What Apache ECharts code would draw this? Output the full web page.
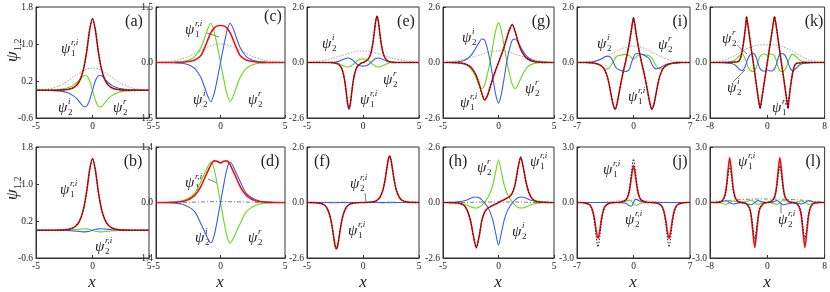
<!DOCTYPE html>
<html><head><meta charset="utf-8">
<script src="https://cdn.jsdelivr.net/npm/echarts@6/dist/echarts.min.js"></script>
<style>html,body{margin:0;padding:0;background:#fff}#c{width:830px;height:292px}</style>
</head><body><div id="c"></div>
<script>
// ---------- tick labels ----------
const ticksX5 = [-5, 0, 5];
const ticksX7 = [-7, 0, 7];
const ticksX8 = [-8, 0, 8];
const ticksYab = [-0.6, 0.2, 1.0, 1.8];
const ticksYc = [-1.5, 0, 1.5];
const ticksYd = [-1.4, 0, 1.4];
const ticksY26 = [-2.6, 0, 2.6];
const ticksY3 = [-3, 0, 3];

// ---------- panel (a),(b),(c),(d) x samples ----------
const xA = [-5,-4,-3.5,-3,-2.5,-2.25,-2,-1.75,-1.5,-1.25,-1,-0.75,-0.5,-0.25,0,0.25,0.5,0.75,1,1.25,1.5,1.75,2,2.25,2.5,3,3.5,4,5];

// (a)
const redA = [0,0,0.001,0.002,0.008,0.015,0.027,0.048,0.087,0.157,0.285,0.505,0.86,1.31,1.55,1.31,0.86,0.505,0.285,0.157,0.087,0.048,0.027,0.015,0.008,0.002,0.001,0,0];
const greenA = [0.001,0.004,0.008,0.017,0.035,0.05,0.07,0.1,0.145,0.2,0.27,0.32,0.31,0.2,0,-0.21,-0.34,-0.36,-0.3,-0.22,-0.155,-0.11,-0.075,-0.05,-0.035,-0.017,-0.008,-0.004,-0.001];
const blueA = [-0.001,-0.004,-0.008,-0.017,-0.035,-0.05,-0.075,-0.11,-0.155,-0.22,-0.3,-0.36,-0.34,-0.21,0,0.2,0.31,0.32,0.27,0.2,0.145,0.1,0.07,0.05,0.035,0.017,0.008,0.004,0.001];
const grayA = [0.005,0.025,0.05,0.09,0.15,0.19,0.23,0.28,0.32,0.36,0.4,0.43,0.46,0.475,0.48,0.475,0.46,0.43,0.4,0.36,0.32,0.28,0.23,0.19,0.15,0.09,0.05,0.025,0.005];

// (b)
const redB = [0,0,0.001,0.002,0.008,0.015,0.027,0.048,0.087,0.157,0.285,0.505,0.86,1.31,1.55,1.31,0.86,0.505,0.285,0.157,0.087,0.048,0.027,0.015,0.008,0.002,0.001,0,0];
const greenB = [0,0,0,0.001,0.003,0.005,0.008,0.012,0.017,0.022,0.028,0.032,0.03,0.02,0,-0.02,-0.03,-0.035,-0.03,-0.024,-0.018,-0.013,-0.009,-0.006,-0.003,-0.001,0,0,0];
const blueB = [0,0,0,-0.001,-0.003,-0.006,-0.009,-0.013,-0.018,-0.024,-0.03,-0.035,-0.03,-0.02,0,0.02,0.03,0.032,0.028,0.022,0.017,0.012,0.008,0.005,0.003,0.001,0,0,0];

// (c)
const redC = [0,0.001,0.003,0.008,0.025,0.04,0.07,0.12,0.2,0.38,0.6,0.8,0.93,0.99,1.0,0.99,0.93,0.8,0.6,0.38,0.2,0.12,0.07,0.04,0.025,0.008,0.003,0.001,0];
const greenC = [0,0.002,0.008,0.02,0.06,0.1,0.16,0.27,0.42,0.65,0.9,1.06,0.85,0.45,0,-0.45,-0.85,-1.06,-0.9,-0.65,-0.42,-0.27,-0.16,-0.1,-0.06,-0.02,-0.008,-0.002,0];
const blueC = [0,-0.002,-0.008,-0.02,-0.06,-0.1,-0.16,-0.27,-0.42,-0.65,-0.9,-1.06,-0.85,-0.45,0,0.45,0.85,1.06,0.9,0.65,0.42,0.27,0.16,0.1,0.06,0.02,0.008,0.002,0];
const grayC = [0.005,0.03,0.055,0.1,0.16,0.2,0.24,0.29,0.33,0.38,0.42,0.45,0.48,0.5,0.5,0.5,0.48,0.45,0.42,0.38,0.33,0.29,0.24,0.2,0.16,0.1,0.055,0.03,0.005];

// (d)
const redD = [0,0.002,0.008,0.025,0.07,0.12,0.18,0.28,0.42,0.6,0.78,0.95,1.05,1.04,1.0,1.04,1.05,0.95,0.78,0.6,0.42,0.28,0.18,0.12,0.07,0.025,0.008,0.002,0];
const greenD = [0,0.005,0.015,0.04,0.11,0.16,0.23,0.37,0.55,0.72,0.9,1.02,0.85,0.45,0,-0.45,-0.85,-1.02,-0.9,-0.72,-0.55,-0.37,-0.23,-0.16,-0.11,-0.04,-0.015,-0.005,0];
const blueD = [0,-0.005,-0.015,-0.04,-0.11,-0.16,-0.23,-0.37,-0.55,-0.72,-0.9,-1.02,-0.85,-0.45,0,0.45,0.85,1.02,0.9,0.72,0.55,0.37,0.23,0.16,0.11,0.04,0.015,0.005,0];
const grayD = [0,0,0,0.002,0.005,0.008,0.01,0.012,0.014,0.016,0.018,0.019,0.02,0.02,0.02,0.02,0.02,0.019,0.018,0.016,0.014,0.012,0.01,0.008,0.005,0.002,0,0,0];

// (e)
const xE = [-5,-4,-3.5,-3,-2.75,-2.5,-2.25,-2,-1.875,-1.75,-1.625,-1.5,-1.375,-1.25,-1.125,-1,-0.875,-0.75,-0.625,-0.5,-0.25,0,0.25,0.5,0.625,0.75,0.875,1,1.125,1.25,1.375,1.5,1.625,1.75,1.875,2,2.25,2.5,2.75,3,3.5,4,5];
const redE = [0,0,0,-0.003,-0.008,-0.024,-0.067,-0.19,-0.32,-0.54,-0.88,-1.37,-1.91,-2.18,-1.91,-1.37,-0.88,-0.54,-0.32,-0.19,-0.06,0,0.06,0.19,0.32,0.54,0.88,1.37,1.91,2.18,1.91,1.37,0.88,0.54,0.32,0.19,0.067,0.024,0.008,0.003,0,0,0];
const greenE = [0,0,0,0,-0.005,-0.015,-0.04,-0.09,-0.12,-0.15,-0.18,-0.2,-0.21,-0.2,-0.18,-0.14,-0.09,-0.03,0.03,0.09,0.15,0.17,0.15,0.09,0.03,-0.03,-0.09,-0.14,-0.18,-0.2,-0.21,-0.2,-0.18,-0.15,-0.12,-0.09,-0.04,-0.015,-0.005,0,0,0,0];
const blueE = [0,0,0,0,0.005,0.015,0.04,0.09,0.12,0.15,0.18,0.2,0.21,0.2,0.18,0.14,0.09,0.03,-0.03,-0.09,-0.15,-0.17,-0.15,-0.09,-0.03,0.03,0.09,0.14,0.18,0.2,0.21,0.2,0.18,0.15,0.12,0.09,0.04,0.015,0.005,0,0,0,0];
const grayE = [0.01,0.06,0.1,0.16,0.19,0.23,0.27,0.31,0.33,0.35,0.37,0.39,0.41,0.43,0.45,0.47,0.49,0.5,0.52,0.53,0.54,0.55,0.54,0.53,0.52,0.5,0.49,0.47,0.45,0.43,0.41,0.39,0.37,0.35,0.33,0.31,0.27,0.23,0.19,0.16,0.1,0.06,0.01];

// (f)
const xF = [-5,-4.5,-4,-3.5,-3.25,-3,-2.875,-2.75,-2.625,-2.5,-2.375,-2.25,-2.125,-2,-1.875,-1.75,-1.5,-1.25,-1,-0.5,0,0.5,1,1.25,1.5,1.75,1.875,2,2.125,2.25,2.375,2.5,2.625,2.75,2.875,3,3.25,3.5,4,4.5,5];
const redF = [-0.001,-0.004,-0.018,-0.1,-0.235,-0.54,-0.8,-1.15,-1.59,-2.0,-2.18,-2.0,-1.59,-1.15,-0.8,-0.54,-0.235,-0.1,-0.045,-0.009,0,0.009,0.045,0.1,0.235,0.54,0.8,1.15,1.59,2.0,2.18,2.0,1.59,1.15,0.8,0.54,0.235,0.1,0.018,0.004,0.001];
const greenF = [0,0,0,0,0,0.005,0.008,0.01,0.012,0.012,0.01,0.006,0.002,-0.002,-0.004,-0.004,-0.003,-0.002,-0.001,0,0,0,0.001,0.002,0.003,0.004,0.004,0.002,-0.002,-0.006,-0.01,-0.012,-0.012,-0.01,-0.008,-0.005,0,0,0,0,0];
const blueF = [0,0,0,0,0,-0.005,-0.008,-0.01,-0.012,-0.012,-0.01,-0.006,-0.002,0.002,0.004,0.004,0.003,0.002,0.001,0,0,0,-0.001,-0.002,-0.003,-0.004,-0.004,-0.002,0.002,0.006,0.01,0.012,0.012,0.01,0.008,0.005,0,0,0,0,0];

// (g)
const xG = [-5,-4.5,-4,-3.75,-3.5,-3.25,-3,-2.75,-2.5,-2.25,-2,-1.75,-1.5,-1.25,-1,-0.75,-0.5,-0.25,0,0.25,0.5,0.75,1,1.25,1.5,1.75,2,2.25,2.5,2.75,3,3.25,3.5,3.75,4,4.5,5];
const redG = [0,0,-0.005,-0.01,-0.02,-0.04,-0.07,-0.13,-0.22,-0.38,-0.62,-1.0,-1.45,-1.76,-1.55,-1.15,-0.72,-0.35,0,0.35,0.72,1.15,1.55,1.78,1.45,1.0,0.62,0.38,0.22,0.13,0.07,0.04,0.02,0.01,0.005,0,0];
const greenG = [0,0,-0.005,-0.01,-0.02,-0.04,-0.08,-0.15,-0.28,-0.48,-0.75,-1.05,-1.22,-1.05,-0.55,0.05,0.8,1.5,1.87,1.5,0.8,0.05,-0.55,-1.05,-1.22,-1.05,-0.75,-0.48,-0.28,-0.15,-0.08,-0.04,-0.02,-0.01,-0.005,0,0];
const blueG = [0,0.002,0.01,0.02,0.04,0.07,0.12,0.2,0.32,0.5,0.72,0.95,1.1,1.05,0.65,0.05,-0.75,-1.5,-1.9,-1.5,-0.75,0.05,0.65,1.05,1.1,0.95,0.72,0.5,0.32,0.2,0.12,0.07,0.04,0.02,0.01,0.002,0];
const grayG = [0.01,0.03,0.06,0.08,0.1,0.13,0.16,0.19,0.23,0.27,0.31,0.35,0.39,0.43,0.47,0.5,0.53,0.54,0.55,0.54,0.53,0.5,0.47,0.43,0.39,0.35,0.31,0.27,0.23,0.19,0.16,0.13,0.1,0.08,0.06,0.03,0.01];

// (h)
const xH = [-5,-4.5,-4,-3.5,-3.25,-3,-2.75,-2.5,-2.25,-2,-1.75,-1.5,-1.25,-1,-0.75,-0.5,-0.25,0,0.25,0.5,0.75,1,1.25,1.5,1.75,2,2.25,2.5,2.75,3,3.25,3.5,4,4.5,5];
const redH = [0,-0.003,-0.01,-0.04,-0.09,-0.2,-0.45,-0.9,-1.6,-2.13,-1.6,-0.85,-0.45,-0.28,-0.2,-0.13,-0.07,0,0.07,0.13,0.2,0.28,0.45,0.85,1.6,2.13,1.6,0.9,0.45,0.2,0.09,0.04,0.01,0.003,0];
const greenH = [0,-0.005,-0.015,-0.04,-0.06,-0.09,-0.14,-0.2,-0.25,-0.26,-0.22,-0.12,0.02,0.2,0.45,0.85,1.45,2.0,1.45,0.85,0.45,0.2,0.02,-0.12,-0.22,-0.26,-0.25,-0.2,-0.14,-0.09,-0.06,-0.04,-0.015,-0.005,0];
const blueH = [0,0.005,0.015,0.04,0.06,0.09,0.14,0.2,0.25,0.26,0.22,0.12,-0.02,-0.2,-0.45,-0.85,-1.45,-2.0,-1.45,-0.85,-0.45,-0.2,-0.02,0.12,0.22,0.26,0.25,0.2,0.14,0.09,0.06,0.04,0.015,0.005,0];
const grayH = [0,0,0,0,0,0.003,0.006,0.01,0.013,0.016,0.018,0.02,0.022,0.023,0.024,0.025,0.025,0.025,0.025,0.025,0.024,0.023,0.022,0.02,0.018,0.016,0.013,0.01,0.006,0.003,0,0,0,0,0];

// (i)
const xI = [-7,-6,-5.5,-5,-4.5,-4,-3.75,-3.5,-3.25,-3,-2.75,-2.5,-2.25,-2,-1.75,-1.5,-1.25,-1,-0.75,-0.5,-0.25,0,0.25,0.5,0.75,1,1.25,1.5,1.75,2,2.25,2.5,2.75,3,3.25,3.5,3.75,4,4.5,5,5.5,6,7];
const redI = [0,0,-0.005,-0.02,-0.06,-0.15,-0.25,-0.4,-0.65,-1.05,-1.55,-2.0,-2.19,-1.85,-1.35,-0.85,-0.4,0,0.45,0.95,1.55,2.1,1.55,0.95,0.45,0,-0.4,-0.85,-1.35,-1.85,-2.19,-2.0,-1.55,-1.05,-0.65,-0.4,-0.25,-0.15,-0.06,-0.02,-0.005,0,0];
const greenI = [0,0,-0.01,-0.03,-0.08,-0.18,-0.25,-0.3,-0.3,-0.25,-0.12,0.05,0.22,0.3,0.33,0.35,0.37,0.38,0.36,0.32,0.22,0.15,0.22,0.32,0.36,0.38,0.37,0.35,0.33,0.3,0.22,0.05,-0.12,-0.25,-0.3,-0.3,-0.25,-0.18,-0.08,-0.03,-0.01,0,0];
const blueI = [0,0,0.01,0.03,0.08,0.16,0.22,0.28,0.3,0.28,0.2,0.02,-0.2,-0.3,-0.35,-0.38,-0.4,-0.42,-0.4,-0.3,0,0.25,0.4,0.42,0.4,0.38,0.35,0.3,0.25,0.15,-0.05,-0.22,-0.3,-0.28,-0.25,-0.2,-0.15,-0.1,-0.05,-0.02,-0.005,0,0];
const grayI = [0.005,0.02,0.04,0.07,0.12,0.18,0.22,0.26,0.3,0.35,0.4,0.45,0.5,0.55,0.6,0.64,0.68,0.71,0.73,0.75,0.76,0.76,0.76,0.75,0.73,0.71,0.68,0.64,0.6,0.55,0.5,0.45,0.4,0.35,0.3,0.26,0.22,0.18,0.12,0.07,0.04,0.02,0.005];

// (j)
const xJ = [-7,-6.5,-6,-5.5,-5.25,-5,-4.8,-4.6,-4.4,-4.2,-4,-3.75,-3.5,-3,-2.5,-2,-1.5,-1,-0.75,-0.5,-0.25,0,0.25,0.5,0.75,1,1.5,2,2.5,3,3.5,3.75,4,4.2,4.4,4.6,4.8,5,5.25,5.5,6,6.5,7];
const redJ = [0,-0.002,-0.02,-0.1,-0.23,-0.52,-0.96,-1.58,-1.95,-1.58,-0.96,-0.44,-0.19,-0.037,-0.005,0.002,0.019,0.11,0.27,0.65,1.4,2.0,1.4,0.65,0.27,0.11,0.019,0.002,-0.005,-0.037,-0.19,-0.44,-0.96,-1.58,-1.95,-1.58,-0.96,-0.52,-0.23,-0.1,-0.02,-0.002,0];
const blackJ = [0,-0.002,-0.025,-0.12,-0.28,-0.64,-1.18,-1.94,-2.4,-1.94,-1.18,-0.54,-0.23,-0.045,-0.006,0.002,0.022,0.13,0.32,0.77,1.65,2.35,1.65,0.77,0.32,0.13,0.022,0.002,-0.006,-0.045,-0.23,-0.54,-1.18,-1.94,-2.4,-1.94,-1.18,-0.64,-0.28,-0.12,-0.025,-0.002,0];
const greenJ = [0,0,0,0,0,0,0,0,0,0,0,0,0,0,0,0,0.02,0.06,0.1,0.12,0.06,-0.05,-0.15,-0.12,-0.07,-0.03,-0.01,0,0,0,0,0,0,0,0,0,0,0,0,0,0,0,0];
const blueJ = [0,0,0,0,0,0,0,0,0,0,0,0,0,0,0,0,-0.01,-0.04,-0.1,-0.18,-0.2,0,0.18,0.15,0.08,0.04,0.01,0,0,0,0,0,0,0,0,0,0,0,0,0,0,0,0];
const grayJ = [0,0,0,0,0,0,0,0,0.005,0.008,0.01,0.015,0.02,0.03,0.05,0.08,0.1,0.12,0.125,0.13,0.13,0.13,0.13,0.13,0.125,0.12,0.1,0.08,0.05,0.03,0.02,0.015,0.01,0.008,0.005,0,0,0,0,0,0,0,0];

// (k)
const xK = [-8,-7,-6,-5,-4.5,-4,-3.75,-3.5,-3.25,-3,-2.9,-2.75,-2.5,-2.25,-2,-1.75,-1.5,-1.25,-1,-0.75,-0.5,-0.25,0,0.25,0.5,0.75,1,1.25,1.5,1.75,2,2.25,2.5,2.75,2.9,3,3.25,3.5,3.75,4,4.5,5,6,7,8];
const redK = [0,0,0,0.005,0.02,0.05,0.2,0.55,1.1,1.8,2.15,1.85,1.25,0.65,0.1,-0.5,-1.1,-1.7,-2.15,-1.65,-1.1,-0.55,0,0.55,1.1,1.65,2.15,1.7,1.1,0.5,-0.1,-0.65,-1.25,-1.85,-2.15,-1.8,-1.1,-0.55,-0.2,-0.05,-0.02,-0.005,0,0,0];
const greenK = [0,0,0.01,0.05,0.12,0.28,0.35,0.38,0.3,0.1,0,-0.15,-0.32,-0.4,-0.42,-0.38,-0.2,0.1,0.3,0.38,0.4,0.38,0.35,0.38,0.4,0.38,0.3,0.1,-0.2,-0.38,-0.42,-0.4,-0.32,-0.15,0,0.1,0.3,0.38,0.35,0.28,0.12,0.05,0.01,0,0];
const blueK = [0,0,-0.01,-0.05,-0.12,-0.28,-0.35,-0.38,-0.3,-0.1,0,0.15,0.32,0.4,0.42,0.38,0.2,-0.1,-0.3,-0.38,-0.4,-0.38,-0.35,-0.38,-0.4,-0.38,-0.3,-0.1,0.2,0.38,0.42,0.4,0.32,0.15,0,-0.1,-0.3,-0.38,-0.35,-0.28,-0.12,-0.05,-0.01,0,0];
const grayK = [0.02,0.05,0.1,0.25,0.33,0.43,0.48,0.53,0.58,0.62,0.64,0.66,0.7,0.73,0.76,0.78,0.8,0.81,0.82,0.83,0.83,0.83,0.83,0.83,0.83,0.83,0.82,0.81,0.8,0.78,0.76,0.73,0.7,0.66,0.64,0.62,0.58,0.53,0.48,0.43,0.33,0.25,0.1,0.05,0.02];

// (l)
const xL = [-8,-7.5,-7,-6.5,-6.25,-6,-5.75,-5.5,-5.25,-5,-4.75,-4.5,-4.25,-4,-3.5,-3,-2.5,-2.25,-2,-1.75,-1.5,-1.25,-1,-0.5,0,0.5,1,1.25,1.5,1.75,2,2.25,2.5,3,3.5,4,4.25,4.5,4.75,5,5.25,5.5,5.75,6,6.25,6.5,7,7.5,8];
const redL = [0,0.001,0.0075,0.047,0.12,0.3,0.75,1.66,2.43,1.66,0.75,0.3,0.12,0.046,0,-0.046,-0.3,-0.75,-1.66,-2.43,-1.66,-0.75,-0.3,-0.046,0,0.046,0.3,0.75,1.66,2.43,1.66,0.75,0.3,0.046,0,-0.046,-0.12,-0.3,-0.75,-1.66,-2.43,-1.66,-0.75,-0.3,-0.12,-0.047,-0.0075,-0.001,0];
const blackL = [0,0.001,0.006,0.038,0.1,0.245,0.61,1.35,1.98,1.35,0.61,0.245,0.1,0.037,0,-0.037,-0.245,-0.61,-1.35,-1.98,-1.35,-0.61,-0.245,-0.037,0,0.037,0.245,0.61,1.35,1.98,1.35,0.61,0.245,0.037,0,-0.037,-0.1,-0.245,-0.61,-1.35,-1.98,-1.35,-0.61,-0.245,-0.1,-0.038,-0.006,-0.001,0];
const greenL = [0,0,-0.01,-0.03,-0.05,-0.08,-0.1,-0.06,0,0.06,0.08,0.06,0.04,0.02,0.02,0.05,0.1,0.12,0.08,0,-0.08,-0.1,-0.06,-0.02,0,-0.02,-0.06,-0.1,-0.08,0,0.08,0.12,0.1,0.05,0.02,0.02,0.04,0.06,0.08,0.06,0,-0.06,-0.1,-0.08,-0.05,-0.03,-0.01,0,0];
const blueL = [0,0,0.01,0.03,0.05,0.08,0.1,0.06,0,-0.06,-0.08,-0.06,-0.04,-0.02,-0.02,-0.05,-0.1,-0.12,-0.08,0,0.08,0.1,0.06,0.02,0,0.02,0.06,0.1,0.08,0,-0.08,-0.12,-0.1,-0.05,-0.02,-0.02,-0.04,-0.06,-0.08,-0.06,0,0.06,0.1,0.08,0.05,0.03,0.01,0,0];
const grayL = [0,0.02,0.04,0.06,0.07,0.08,0.09,0.1,0.11,0.12,0.13,0.135,0.14,0.15,0.16,0.17,0.175,0.18,0.18,0.185,0.185,0.19,0.19,0.19,0.19,0.19,0.19,0.19,0.185,0.185,0.18,0.18,0.175,0.17,0.16,0.15,0.14,0.135,0.13,0.12,0.11,0.1,0.09,0.08,0.07,0.06,0.04,0.02,0];

// ---------- layout ----------
const SERIF = '"Liberation Serif","DejaVu Serif",serif';
const panels = [
  {L:'(a)', g:[36,7,113,111],  xr:[-5,5], xt:ticksX5, yr:[-0.6,1.8], yt:ticksYab, x:xA, red:redA, black:redA, green:greenA, blue:blueA, gray:grayA, lp:[134,22]},
  {L:'(b)', g:[36,147,113,111],xr:[-5,5], xt:ticksX5, yr:[-0.6,1.8], yt:ticksYab, x:xA, red:redB, black:redB, green:greenB, blue:blueB, gray:null, lp:[133,162]},
  {L:'(c)', g:[156,7,129,111], xr:[-5,5], xt:ticksX5, yr:[-1.5,1.5], yt:ticksYc, x:xA, red:redC, black:null, green:greenC, blue:blueC, gray:grayC, lp:[273,17]},
  {L:'(d)', g:[156,147,129,111],xr:[-5,5], xt:ticksX5, yr:[-1.4,1.4], yt:ticksYd, x:xA, red:redD, black:null, green:greenD, blue:blueD, gray:grayD, grayDash:true, lp:[270,162]},
  {L:'(e)', g:[307,7,112,111], xr:[-5,5], xt:ticksX5, yr:[-2.6,2.6], yt:ticksY26, x:xE, red:redE, black:redE, green:greenE, blue:blueE, gray:grayE, lp:[406,22]},
  {L:'(f)', g:[307,147,112,111],xr:[-5,5], xt:ticksX5, yr:[-2.6,2.6], yt:ticksY26, x:xF, red:redF, black:redF, green:greenF, blue:blueF, gray:null, lp:[322,162]},
  {L:'(g)', g:[443,7,111,111], xr:[-5,5], xt:ticksX5, yr:[-2.6,2.6], yt:ticksY26, x:xG, red:redG, black:redG, green:greenG, blue:blueG, gray:grayG, lp:[541,22]},
  {L:'(h)', g:[443,147,111,111],xr:[-5,5], xt:ticksX5, yr:[-2.6,2.6], yt:ticksY26, x:xH, red:redH, black:redH, green:greenH, blue:blueH, gray:grayH, grayDash:true, lp:[458,162]},
  {L:'(i)', g:[577,7,113,111], xr:[-7,7], xt:ticksX7, yr:[-2.6,2.6], yt:ticksY26, x:xI, red:redI, black:redI, green:greenI, blue:blueI, gray:grayI, lp:[680,22]},
  {L:'(j)', g:[577,147,113,111],xr:[-7,7], xt:ticksX7, yr:[-3,3], yt:ticksY3, x:xJ, red:redJ, black:blackJ, green:greenJ, blue:blueJ, gray:grayJ, lp:[680,162]},
  {L:'(k)', g:[710,7,115,111], xr:[-8,8], xt:ticksX8, yr:[-2.6,2.6], yt:ticksY26, x:xK, red:redK, black:redK, green:greenK, blue:blueK, gray:grayK, lp:[814,22]},
  {L:'(l)', g:[710,147,115,111],xr:[-8,8], xt:ticksX8, yr:[-3,3], yt:ticksY3, x:xL, red:redL, black:blackL, green:greenL, blue:blueL, gray:grayL, grayDash:true, lp:[813,162]}
];

function pairs(xs, ys){ return xs.map((x,i)=>[x, ys[i]]); }

const grid=[], xAxis=[], yAxis=[], series=[];
panels.forEach((p,i)=>{
  grid.push({left:p.g[0], top:p.g[1], width:p.g[2], height:p.g[3], show:true, borderColor:'#333', borderWidth:1, backgroundColor:'transparent'});
  xAxis.push({gridIndex:i, type:'value', min:p.xr[0], max:p.xr[1], interval:p.xt[1]-p.xt[0],
    axisLine:{show:true, onZero:false, lineStyle:{color:'#333',width:1}},
    axisTick:{show:true, inside:true, length:3, lineStyle:{color:'#333'}, customValues:p.xt},
    axisLabel:{customValues:p.xt, fontSize:9.5, color:'#222', fontFamily:SERIF, margin:3, formatter:v=>String(v)},
    splitLine:{show:false}});
  yAxis.push({gridIndex:i, type:'value', min:p.yr[0], max:p.yr[1], interval:p.yt[1]-p.yt[0],
    axisLine:{show:true, onZero:false, lineStyle:{color:'#333',width:1}},
    axisTick:{show:true, inside:true, length:3, lineStyle:{color:'#333'}, customValues:p.yt},
    axisLabel:{customValues:p.yt, fontSize:9.5, color:'#222', fontFamily:SERIF, margin:3, formatter:v=>v.toFixed(1)},
    splitLine:{show:false}});
  const base = {type:'line', xAxisIndex:i, yAxisIndex:i, showSymbol:false, symbol:'none', smooth:0.25, clip:true, silent:true, animation:false};
  if (p.gray) series.push(Object.assign({}, base, {data:pairs(p.x,p.gray), lineStyle:{color:p.grayDash?'#555':'#8a8a8a', width:0.8, type:p.grayDash?[4,2,1,2]:[1.5,1.5]}}));
  series.push(Object.assign({}, base, {data:pairs(p.x,p.green), lineStyle:{color:'#63dc14', width:1.1}}));
  series.push(Object.assign({}, base, {data:pairs(p.x,p.blue), lineStyle:{color:'#3a5cf2', width:1.1}}));
  series.push(Object.assign({}, base, {data:pairs(p.x,p.red), lineStyle:{color:'#ee1111', width:1.6}}));
  if (p.black) series.push(Object.assign({}, base, {data:pairs(p.x,p.black), lineStyle:{color:'#111', width:0.9, type:[1.5,1.5]}}));
});

// ---------- text labels ----------
function psi(x, y, sub, sup){
  const ch = [{type:'text', x:0, y:0, style:{text:'ψ', font:'italic 15px '+SERIF, fill:'#222', textVerticalAlign:'middle', verticalAlign:'middle'}}];
  if (sup) ch.push({type:'text', x:10, y:-6, style:{text:sup, font:'italic 9px '+SERIF, fill:'#222', textVerticalAlign:'middle', verticalAlign:'middle'}});
  if (sub) ch.push({type:'text', x:10, y:5, style:{text:sub, font:'9px '+SERIF, fill:'#222', textVerticalAlign:'middle', verticalAlign:'middle'}});
  return {type:'group', x:x, y:y, children:ch, silent:true};
}
function line(x1,y1,x2,y2){ return {type:'line', shape:{x1,y1,x2,y2}, style:{stroke:'#444', lineWidth:0.7}, silent:true}; }

const graphic = [];
panels.forEach(p=>graphic.push({type:'text', x:p.lp[0], y:p.lp[1], style:{text:p.L, font:'16px '+SERIF, fill:'#222', textAlign:'center', align:'center', textVerticalAlign:'middle', verticalAlign:'middle'}, silent:true}));
[
 [61,49,'1','r,i'],[58,108,'2','i'],[113,108,'2','r'],
 [60,190,'1','r,i'],[95,247,'2','r,i'],
 [185,30,'1','r,i'],[193,100,'2','i'],[248,100,'2','r'],
 [185,183,'1','r,i'],[195,238,'2','i'],[248,238,'2','r'],
 [322,44,'2','i'],[383,80,'2','r'],[360,100,'1','r,i'],
 [350,184,'2','r,i'],[348,231,'1','r,i'],
 [462,38,'2','i'],[460,103,'1','r,i'],[525,89,'2','r'],
 [477,168,'2','r'],[530,162,'1','r,i'],[512,232,'2','i'],
 [597,44,'2','i'],[658,45,'2','r'],[628,97,'1','r,i'],
 [603,170,'1','r,i'],[625,220,'2','r,i'],
 [722,39,'2','r'],[727,88,'2','i'],[772,108,'1','r,i'],
 [738,162,'1','r,i'],[778,220,'2','r,i']
].forEach(a=>graphic.push(psi(a[0],a[1],a[2],a[3])));
graphic.push(line(207,33,219,37), line(208,179,217,183), line(365,193,366,202), line(737,45,747,54), line(733,82,745,70), line(781,213,781,203));
[[13,52],[13,190]].forEach(c=>{
  graphic.push({type:'group', x:c[0], y:c[1], rotation:Math.PI/2, silent:true, children:[
    {type:'text', x:-10, y:0, style:{text:'ψ', font:'italic 17px '+SERIF, fill:'#222', textVerticalAlign:'middle', verticalAlign:'middle'}},
    {type:'text', x:1, y:5, style:{text:'1,2', font:'10px '+SERIF, fill:'#222', textVerticalAlign:'middle', verticalAlign:'middle'}}
  ]});
});
[92,220,363,498,633,767].forEach(cx=>graphic.push({type:'text', x:cx, y:283, style:{text:'x', font:'italic 17px '+SERIF, fill:'#222', textAlign:'center', align:'center', textVerticalAlign:'middle', verticalAlign:'middle'}, silent:true}));

const chart = echarts.init(document.getElementById('c'), null, {renderer:'canvas', width:830, height:292});
chart.setOption({animation:false, backgroundColor:'#fff', grid, xAxis, yAxis, series, graphic});
</script></body></html>
